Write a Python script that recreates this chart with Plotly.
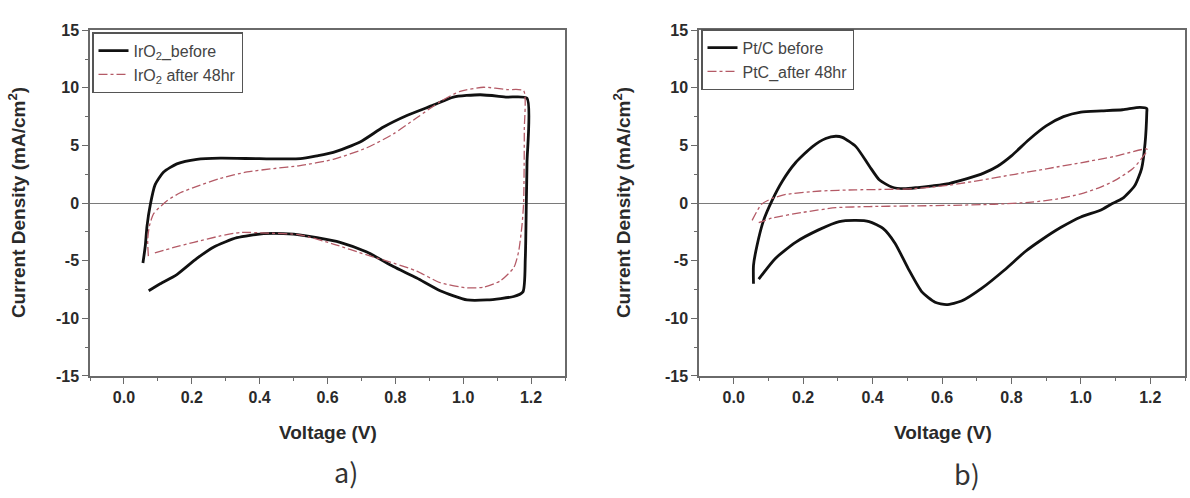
import plotly.graph_objects as go

# ---------------- data ----------------
# a) IrO2
iro2_before_v = [0.056, 0.063, 0.068, 0.078, 0.092, 0.117, 0.156, 0.215, 0.284, 0.40, 0.52, 0.569, 0.617,
                 0.696, 0.765, 0.834, 0.912, 0.971, 1.05, 1.129, 1.188, 1.188, 1.186, 1.183, 1.176, 1.149,
                 1.07, 1.011, 0.932, 0.863, 0.794, 0.716, 0.637, 0.569, 0.50, 0.412, 0.333, 0.265, 0.215,
                 0.156, 0.107, 0.073]
iro2_before_i = [-5.2, -3.7, -2.0, -0.1, 1.6, 2.7, 3.4, 3.8, 3.9, 3.85, 3.85, 4.1, 4.4,
                 5.3, 6.6, 7.6, 8.5, 9.2, 9.4, 9.2, 9.1, 3.5, 0.0, -4.8, -7.7, -8.1,
                 -8.4, -8.4, -7.6, -6.5, -5.5, -4.25, -3.4, -3.0, -2.7, -2.65, -3.0, -3.8, -4.8,
                 -6.2, -7.0, -7.6]

iro2_after_v = [0.072, 0.07, 0.075, 0.088, 0.127, 0.166, 0.215, 0.284, 0.363, 0.442, 0.519, 0.617, 0.716,
                0.794, 0.863, 0.932, 0.991, 1.06, 1.129, 1.178, 1.18, 1.178, 1.173, 1.163, 1.149, 1.109,
                1.06, 1.011, 0.932, 0.863, 0.794, 0.716, 0.617, 0.519, 0.422, 0.343, 0.284, 0.206, 0.147,
                0.083]
iro2_after_i = [-4.6, -3.2, -2.0, -0.9, 0.2, 0.9, 1.45, 2.15, 2.7, 3.0, 3.25, 3.8, 4.8,
                6.0, 7.4, 8.8, 9.7, 10.05, 9.85, 9.75, 6.3, 0.0, -2.0, -4.25, -5.6, -6.75,
                -7.3, -7.35, -6.9, -5.9, -5.2, -4.5, -3.55, -2.75, -2.6, -2.55, -2.85, -3.4, -3.85,
                -4.4]

# b) Pt/C
ptc_before_v = [0.057, 0.057, 0.067, 0.086, 0.11, 0.14, 0.178, 0.227, 0.265, 0.294, 0.313, 0.352, 0.391,
                0.42, 0.455, 0.49, 0.53, 0.573, 0.62, 0.67, 0.72, 0.76, 0.80, 0.85, 0.90, 0.95, 1.0,
                1.06, 1.12, 1.17, 1.19, 1.19, 1.185, 1.175, 1.155, 1.12, 1.087, 1.058, 1.0, 0.943,
                0.886, 0.84, 0.78, 0.714, 0.656, 0.613, 0.58, 0.542, 0.503, 0.465, 0.43, 0.39, 0.352,
                0.304, 0.246, 0.178, 0.12, 0.072]
ptc_before_i = [-7.0, -5.4, -3.7, -1.5, 0.2, 1.9, 3.5, 4.9, 5.6, 5.8, 5.7, 4.9, 3.2,
                2.0, 1.4, 1.25, 1.35, 1.5, 1.7, 2.1, 2.6, 3.2, 4.1, 5.5, 6.7, 7.5, 7.9,
                8.0, 8.1, 8.3, 8.2, 7.9, 5.2, 3.0, 1.5, 0.4, -0.1, -0.6, -1.2, -2.1,
                -3.2, -4.2, -5.8, -7.4, -8.5, -8.8, -8.6, -7.7, -5.7, -3.5, -2.2, -1.6, -1.5,
                -1.6, -2.3, -3.4, -4.8, -6.6]

ptc_after_v = [0.053, 0.08, 0.11, 0.15, 0.25, 0.35, 0.52, 0.62, 0.714, 0.81, 0.905, 1.0, 1.097, 1.19,
               1.19, 1.15, 1.097, 1.05, 1.0, 0.93, 0.857, 0.75, 0.618, 0.5, 0.39, 0.294, 0.2, 0.11, 0.072]
ptc_after_i = [-1.5, -0.1, 0.4, 0.75, 1.05, 1.15, 1.25, 1.55, 2.0, 2.5, 3.0, 3.5, 4.05, 4.7,
               4.5, 3.0, 1.95, 1.3, 0.8, 0.35, 0.08, -0.1, -0.2, -0.25, -0.3, -0.4, -0.8, -1.3, -1.7]

x_ticks = [0.0, 0.2, 0.4, 0.6, 0.8, 1.0, 1.2]
x_tick_labels = ["0.0", "0.2", "0.4", "0.6", "0.8", "1.0", "1.2"]
y_ticks = [-15, -10, -5, 0, 5, 10, 15]
y_tick_labels = ["-15", "-10", "-5", "0", "5", "10", "15"]

# ---------------- figure ----------------
BLACK = "#111111"
RED = "#b45a66"
AX = "#6a6a6a"
FONT = "Liberation Sans, Arial, sans-serif"
TXT = "#2a2a2a"

fig = go.Figure()

fig.add_trace(go.Scatter(x=iro2_before_v, y=iro2_before_i, mode="lines",
                         name="IrO<sub>2</sub>_before", line=dict(color=BLACK, width=2.8, shape="spline", smoothing=0.6),
                         xaxis="x", yaxis="y", legend="legend"))
fig.add_trace(go.Scatter(x=iro2_after_v, y=iro2_after_i, mode="lines",
                         name="IrO<sub>2</sub> after 48hr", line=dict(color=RED, width=1.3, dash="dashdot", shape="spline", smoothing=0.6),
                         xaxis="x", yaxis="y", legend="legend"))
fig.add_trace(go.Scatter(x=ptc_before_v, y=ptc_before_i, mode="lines",
                         name="Pt/C before", line=dict(color=BLACK, width=2.8, shape="spline", smoothing=0.6),
                         xaxis="x2", yaxis="y2", legend="legend2"))
fig.add_trace(go.Scatter(x=ptc_after_v, y=ptc_after_i, mode="lines",
                         name="PtC_after 48hr", line=dict(color=RED, width=1.3, dash="dashdot", shape="spline", smoothing=0.6),
                         xaxis="x2", yaxis="y2", legend="legend2"))

def xax(domain, anchor):
    return dict(domain=domain, anchor=anchor, range=[-0.1, 1.3], tickvals=x_ticks, ticktext=x_tick_labels,
                showline=True, linecolor=AX, linewidth=1.5, mirror=True, showgrid=False, zeroline=False,
                ticks="outside", ticklen=6, tickwidth=1.2, tickcolor=AX,
                minor=dict(dtick=0.1, tick0=0, ticks="outside", ticklen=3, tickwidth=1, tickcolor=AX),
                tickfont=dict(family=FONT, size=16, color=TXT, weight="bold"))

def yax(domain, anchor):
    return dict(domain=domain, anchor=anchor, range=[-15, 15], tickvals=y_ticks, ticktext=y_tick_labels,
                showline=True, linecolor=AX, linewidth=1.5, mirror=True, showgrid=False,
                zeroline=True, zerolinecolor="#7a7a7a", zerolinewidth=1.2,
                ticks="outside", ticklen=6, tickwidth=1.2, tickcolor=AX,
                minor=dict(dtick=2.5, tick0=0, ticks="outside", ticklen=3, tickwidth=1, tickcolor=AX),
                tickfont=dict(family=FONT, size=16, color=TXT, weight="bold"))

YDOM = [1 - 381 / 498, 1 - 23 / 498]

fig.update_layout(
    width=1190, height=498,
    margin=dict(l=0, r=0, t=0, b=0),
    paper_bgcolor="white", plot_bgcolor="white",
    xaxis=xax([90 / 1190, 565 / 1190], "y"),
    yaxis=yax(YDOM, "x"),
    xaxis2=xax([699 / 1190, 1185 / 1190], "y2"),
    yaxis2=yax(YDOM, "x2"),
    legend=dict(x=92 / 1190, y=1 - 25 / 498, xanchor="left", yanchor="top",
                bordercolor="#555555", borderwidth=1.5, bgcolor="white",
                font=dict(family=FONT, size=16, color="#444444"), tracegroupgap=0),
    legend2=dict(x=701 / 1190, y=1 - 22 / 498, xanchor="left", yanchor="top",
                 bordercolor="#555555", borderwidth=1.5, bgcolor="white",
                 font=dict(family=FONT, size=16, color="#444444"), tracegroupgap=0),
    showlegend=True,
)

title_font = dict(family=FONT, size=19, color=TXT, weight="bold")
label_font = dict(family="Noto Sans CJK KR, Noto Sans, sans-serif", size=27, color="#333333")
common = dict(xref="paper", yref="paper", showarrow=False, xanchor="center", yanchor="middle")
annotations = [
    dict(text="Current Density (mA/cm<sup>2</sup>)", x=17 / 1190, y=1 - 202 / 498,
         textangle=-90, font=title_font, **common),
    dict(text="Current Density (mA/cm<sup>2</sup>)", x=622 / 1190, y=1 - 202 / 498,
         textangle=-90, font=title_font, **common),
    dict(text="Voltage (V)", x=328 / 1190, y=1 - 440 / 498, font=title_font, **common),
    dict(text="Voltage (V)", x=943 / 1190, y=1 - 440 / 498, font=title_font, **common),
    dict(text="a)", x=346 / 1190, y=1 - 480 / 498, font=label_font, **common),
    dict(text="b)", x=967 / 1190, y=1 - 482 / 498, font=label_font, **common),
]
fig.update_layout(annotations=annotations)

fig.write_html("out.html")
